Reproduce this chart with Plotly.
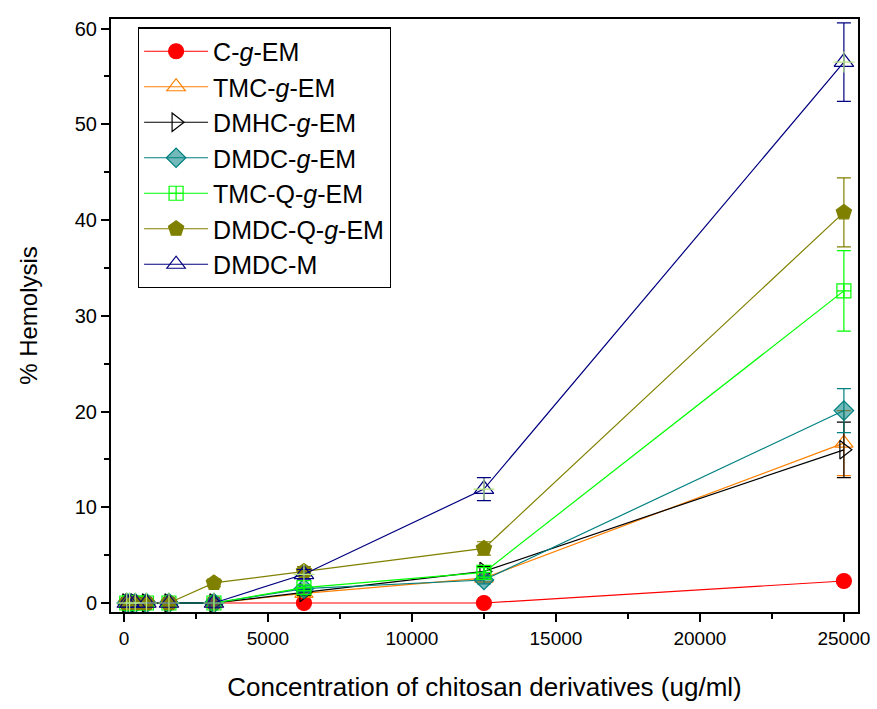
import plotly.graph_objects as go

conc = [97.66, 195.31, 390.63, 781.25, 1562.5, 3125, 6250, 12500, 25000]

names = ["C-<i>g</i>-EM", "TMC-<i>g</i>-EM", "DMHC-<i>g</i>-EM", "DMDC-<i>g</i>-EM",
         "TMC-Q-<i>g</i>-EM", "DMDC-Q-<i>g</i>-EM", "DMDC-M"]

c_g_em      = [0, 0, 0, 0, 0, 0, 0, 0, 2.3]
tmc_g_em    = [0, 0, 0, 0, 0, 0, 1.0, 2.6, 16.7]
dmhc_g_em   = [0, 0, 0, 0, 0, 0, 1.1, 3.3, 16.0]
dmdc_g_em   = [0, 0, 0, 0, 0, 0, 1.5, 2.4, 20.1]
tmc_q_g_em  = [0, 0, 0, 0, 0, 0, 1.6, 3.2, 32.6]
dmdc_q_g_em = [0, 0, 0, 0, 0, 2.1, 3.3, 5.7, 40.8]
dmdc_m      = [0, 0, 0, 0, 0, 0, 3.0, 11.9, 56.5]

c_g_em_err      = [0, 0, 0, 0, 0, 0, 0, 0, 0.2]
tmc_g_em_err    = [0, 0, 0, 0, 0, 0, 0.3, 0.4, 3.4]
dmhc_g_em_err   = [0, 0, 0, 0, 0, 0, 0.3, 0.5, 2.9]
dmdc_g_em_err   = [0, 0, 0, 0, 0, 0, 0.3, 0.4, 2.3]
tmc_q_g_em_err  = [0, 0, 0, 0, 0, 0, 0.3, 0.5, 4.2]
dmdc_q_g_em_err = [0, 0, 0, 0, 0, 0.4, 0.5, 0.7, 3.6]
dmdc_m_err      = [0, 0, 0, 0, 0, 0, 0.5, 1.2, 4.1]

x_ticks = [0, 5000, 10000, 15000, 20000, 25000]
x_tick_labels = ["0", "5000", "10000", "15000", "20000", "25000"]
y_ticks = [0, 10, 20, 30, 40, 50, 60]

series = [c_g_em, tmc_g_em, dmhc_g_em, dmdc_g_em, tmc_q_g_em, dmdc_q_g_em, dmdc_m]
errors = [c_g_em_err, tmc_g_em_err, dmhc_g_em_err, dmdc_g_em_err, tmc_q_g_em_err,
          dmdc_q_g_em_err, dmdc_m_err]
colors = ["#FF0000", "#FF8000", "#000000", "#008080", "#00FF00", "#808000", "#000080"]
symbols = ["circle", "triangle-up-open", "triangle-right-open", "diamond",
           "square-cross-open", "pentagon", "triangle-up-open"]
fills = ["#FF0000", None, None, "rgba(0,128,128,0.55)", None, "#808000", None]
sizes = [15, 16, 16, 15, 14, 16, 17]

fig = go.Figure()
for i, (nm, ys, er, col, sym, fl, sz) in enumerate(zip(names, series, errors, colors, symbols, fills, sizes)):
    marker = dict(symbol=sym, size=sz, color=fl if fl else col,
                  line=dict(color=col, width=1.2))
    fig.add_trace(go.Scatter(
        x=conc, y=ys, name=nm, mode="lines+markers",
        line=dict(color=col, width=1.2),
        marker=marker,
        error_y=dict(type="data", array=er, visible=True, color=col, thickness=1.2, width=7),
        legendgroup="g%d" % i,
    ))
    if i == 6:
        fig.add_trace(go.Scatter(
            x=conc, y=ys, mode="markers", showlegend=False, legendgroup="g%d" % i,
            marker=dict(symbol="cross-thin-open", size=15, line=dict(color=col, width=1.2)),
            hoverinfo="skip",
        ))

axis_common = dict(
    showline=True, linecolor="black", linewidth=2, mirror=True,
    ticks="outside", tickcolor="black", tickwidth=2,
    showgrid=False, zeroline=False, automargin=False,
)

fig.update_xaxes(
    **axis_common, range=[-450, 25490], tickvals=x_ticks, ticktext=x_tick_labels,
    ticklen=8,
    minor=dict(dtick=2500, tick0=0, ticks="outside", ticklen=5, tickcolor="black", tickwidth=2),
    tickfont=dict(family="Liberation Sans, Arial", size=19, color="black"),
    title=dict(text="Concentration of chitosan derivatives (ug/ml)", standoff=30,
               font=dict(family="Liberation Sans, Arial", size=26, color="black")),
)
fig.update_yaxes(
    **axis_common, range=[-0.94, 61.0], tickvals=y_ticks,
    ticklen=8,
    minor=dict(dtick=5, tick0=0, ticks="outside", ticklen=5, tickcolor="black", tickwidth=2),
    tickfont=dict(family="Liberation Sans, Arial", size=20, color="black"),
    title=dict(text="% Hemolysis", standoff=30,
               font=dict(family="Liberation Sans, Arial", size=24, color="black")),
)

fig.update_layout(
    width=877, height=709,
    margin=dict(l=111, r=19, t=19, b=97),
    paper_bgcolor="white", plot_bgcolor="white",
    showlegend=True,
    legend=dict(
        x=0.036, y=0.986, xanchor="left", yanchor="top",
        bordercolor="black", borderwidth=1.2, bgcolor="white",
        font=dict(family="Liberation Sans, Arial", size=25, color="black"),
        itemwidth=64, tracegroupgap=0,
    ),
)

fig.write_html("out.html")
